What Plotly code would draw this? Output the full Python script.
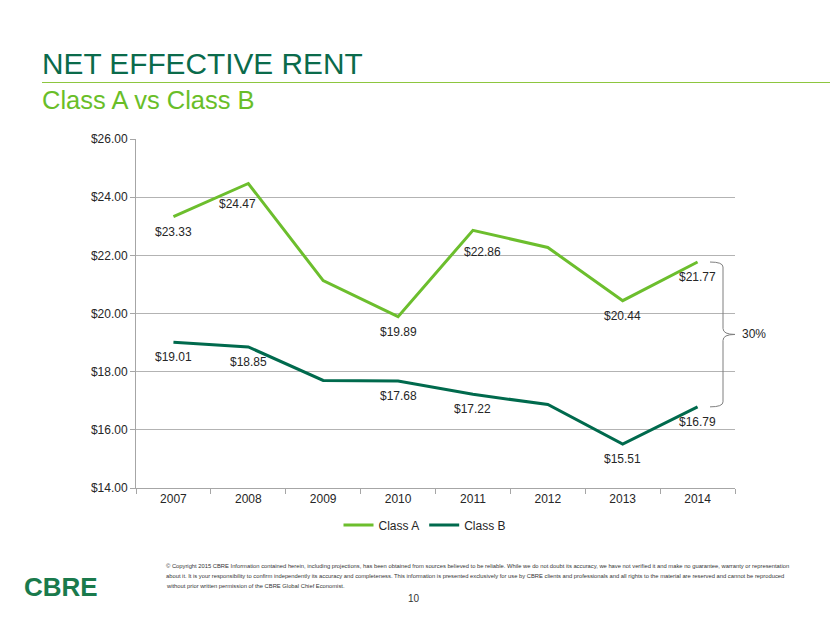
import plotly.graph_objects as go

years = ["2007", "2008", "2009", "2010", "2011", "2012", "2013", "2014"]
class_a = [23.33, 24.47, 21.13, 19.89, 22.86, 22.27, 20.44, 21.77]
class_b = [19.01, 18.85, 17.70, 17.68, 17.22, 16.87, 15.51, 16.79]
labeled_a = [True, True, False, True, True, False, True, True]
labeled_b = [True, True, False, True, True, False, True, True]
y_ticks = [14, 16, 18, 20, 22, 24, 26]
gap_label = "30%"

W, H = 830, 623
L, R, T, B = 136, 735, 139, 488

def px(x):
    return (x - L) / (R - L)

def py(y):
    return (B - y) / (B - T)

GREEN_A = "#6CBE2D"
GREEN_B = "#006A4D"
TXT = "#262626"
FONT = "Arial, Liberation Sans"

fig = go.Figure()
fig.add_trace(go.Scatter(x=years, y=class_a, mode="lines", name="Class A",
                         line=dict(color=GREEN_A, width=3), hoverinfo="skip"))
fig.add_trace(go.Scatter(x=years, y=class_b, mode="lines", name="Class B",
                         line=dict(color=GREEN_B, width=3), hoverinfo="skip"))

annotations = []
# label offsets (style): default below the point
offs_a = {1: (-11, -20), 4: (10, -22)}
for i, v in enumerate(class_a):
    if labeled_a[i]:
        dx, dy = offs_a.get(i, (0, -15))
        annotations.append(dict(xref="x", yref="y", x=i, y=v, text=f"${v:.2f}", showarrow=False,
                                xshift=dx, yshift=dy,
                                font=dict(family=FONT, size=12, color=TXT)))
for i, v in enumerate(class_b):
    if labeled_b[i]:
        annotations.append(dict(xref="x", yref="y", x=i, y=v, text=f"${v:.2f}", showarrow=False,
                                yshift=-15,
                                font=dict(family=FONT, size=12, color=TXT)))

# brace between last points
ytop, ybot = class_a[-1], class_b[-1]
ymid = (ytop + ybot) / 2
k = (26 - 14) / (B - T)  # data units per pixel
x0, x1, x2 = px(710), px(723), px(735)
path = (f"M {x0},{ytop} Q {x1},{ytop} {x1},{ytop - 5*k} "
        f"L {x1},{ymid + 6*k} Q {x1},{ymid} {x2},{ymid} "
        f"Q {x1},{ymid} {x1},{ymid - 6*k} "
        f"L {x1},{ybot + 5*k} Q {x1},{ybot} {x0},{ybot}")
shapes = [dict(type="path", xref="paper", yref="y", path=path,
               line=dict(color="#7f7f7f", width=1)),
          dict(type="line", xref="paper", yref="paper", x0=px(42), x1=px(830),
               y0=py(82.5), y1=py(82.5), line=dict(color="#8DC63F", width=1.2))]
annotations.append(dict(xref="paper", yref="y", x=px(740), y=ymid, text=gap_label,
                        showarrow=False, xanchor="left",
                        font=dict(family=FONT, size=12, color=TXT)))

# titles
annotations.append(dict(xref="paper", yref="paper", x=px(40), y=py(63), text="NET EFFECTIVE RENT",
                        showarrow=False, xanchor="left", yanchor="middle",
                        font=dict(family=FONT, size=29.8, color="#0B6B4B")))
annotations.append(dict(xref="paper", yref="paper", x=px(40), y=py(100), text="Class A vs Class B",
                        showarrow=False, xanchor="left", yanchor="middle",
                        font=dict(family=FONT, size=25.5, color="#69BE28")))

# footer
annotations.append(dict(xref="paper", yref="paper", x=px(61), y=py(587), text="<b>CBRE</b>",
                        showarrow=False, xanchor="center", yanchor="middle",
                        font=dict(family=FONT, size=26, color="#1A7A4C")))
copy_lines = [
    "© Copyright 2015 CBRE Information contained herein, including projections, has been obtained from sources believed to be reliable. While we do not doubt its accuracy, we have not verified it and make no guarantee, warranty or representation",
    "about it. It is your responsibility to confirm independently its accuracy and completeness. This information is presented exclusively for use by CBRE clients and professionals and all rights to the material are reserved and cannot be reproduced",
    "without prior written permission of the CBRE Global Chief Economist.",
]
for j, line in enumerate(copy_lines):
    annotations.append(dict(xref="paper", yref="paper", x=px(164), y=py(566 + 10 * j), text=line,
                            showarrow=False, xanchor="left", yanchor="middle", align="left",
                            font=dict(family=FONT, size=5.8, color="#333333")))
annotations.append(dict(xref="paper", yref="paper", x=px(414), y=py(598), text="10",
                        showarrow=False, xanchor="center", yanchor="middle",
                        font=dict(family=FONT, size=10, color="#333333")))

fig.update_layout(
    width=W, height=H,
    margin=dict(l=L, r=W - R, t=T, b=H - B, pad=0),
    paper_bgcolor="white", plot_bgcolor="white",
    showlegend=True,
    legend=dict(orientation="h", x=px(425), xanchor="center", y=py(525), yanchor="middle",
                font=dict(family=FONT, size=12, color=TXT),
                itemwidth=30, tracegroupgap=0, bgcolor="rgba(0,0,0,0)"),
    xaxis=dict(type="category", showgrid=False, showline=True, linecolor="#a6a6a6", linewidth=1,
               ticks="outside", tickson="boundaries", ticklen=5, tickcolor="#a6a6a6",
               tickfont=dict(family=FONT, size=12, color=TXT),
               range=[-0.5, len(years) - 0.5], fixedrange=True),
    yaxis=dict(range=[y_ticks[0], y_ticks[-1]], tickvals=y_ticks,
               ticktext=[f"${v:.2f}" for v in y_ticks],
               showgrid=True, gridcolor="#b3b3b3", gridwidth=1,
               showline=True, linecolor="#a6a6a6", linewidth=1,
               ticks="outside", ticklen=5, tickcolor="#a6a6a6",
               tickfont=dict(family=FONT, size=12, color=TXT),
               zeroline=False, fixedrange=True),
    shapes=shapes,
    annotations=annotations,
)

fig.write_html("out.html", config={"displayModeBar": False})
